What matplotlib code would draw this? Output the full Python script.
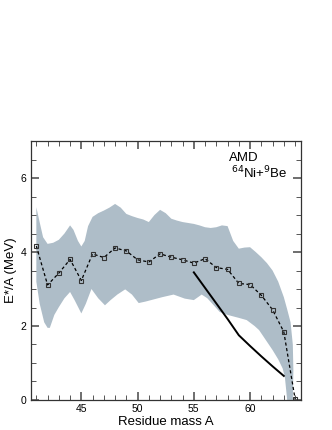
'''AMD excitation energy per nucleon vs residue mass for 64Ni+9Be.'''
import numpy as np
import matplotlib.pyplot as plt
from matplotlib.ticker import MultipleLocator

## data
mass = list(range(41, 65))
e_star = [4.16, 3.11, 3.43, 3.80, 3.23, 3.95, 3.85, 4.11, 4.03, 3.79, 3.73, 3.95,
          3.86, 3.79, 3.70, 3.82, 3.58, 3.53, 3.15, 3.12, 2.83, 2.44, 1.84, 0.03]

# spread of the distribution (upper / lower edge of the shaded band)
upper_a = [41.0, 41.3, 41.6, 42.0, 42.5, 43.0, 43.5, 44.0, 44.3, 44.7, 45.0, 45.3,
           45.6, 46.0, 46.5, 47.0, 47.5, 48.0, 48.5, 49.0, 49.5, 50.0, 50.5, 51.0,
           51.5, 52.0, 52.5, 53.0, 53.5, 54.0, 55.0, 55.5, 56.0, 56.5, 57.0, 57.5,
           58.0, 58.5, 59.0, 59.5, 60.0, 60.5, 61.0, 61.5, 62.0, 62.5, 63.0, 63.3,
           63.6, 63.8, 63.85, 63.8]
upper_e = [5.21, 4.8, 4.4, 4.22, 4.25, 4.33, 4.5, 4.72, 4.6, 4.3, 4.15, 4.3,
           4.7, 4.95, 5.05, 5.12, 5.2, 5.30, 5.2, 5.03, 4.97, 4.92, 4.88, 4.81,
           5.0, 5.14, 5.05, 4.90, 4.85, 4.81, 4.76, 4.72, 4.67, 4.65, 4.67, 4.72,
           4.70, 4.3, 4.09, 4.12, 4.13, 4.0, 3.86, 3.7, 3.50, 3.2, 2.78, 2.45,
           2.1, 1.5, 0.8, 0.0]
lower_a = [41.0, 41.3, 41.7, 42.0, 42.2, 42.6, 43.0, 43.5, 44.0, 44.4, 45.0, 45.4,
           45.9, 46.5, 47.1, 47.6, 48.2, 48.9, 49.5, 50.1, 50.7, 51.2, 52.2, 53.2,
           54.2, 55.0, 55.7, 56.2, 56.8, 57.3, 58.0, 59.0, 59.7, 60.4, 60.8, 61.2,
           62.0, 62.5, 62.9, 63.1, 63.3]
lower_e = [3.2, 2.6, 2.1, 1.95, 1.95, 2.3, 2.51, 2.75, 2.92, 2.7, 2.34, 2.6,
           3.0, 2.75, 2.56, 2.7, 2.85, 2.99, 2.85, 2.62, 2.66, 2.70, 2.78, 2.85,
           2.74, 2.70, 2.85, 2.75, 2.55, 2.38, 2.3, 2.22, 2.16, 2.0, 1.89, 1.71,
           1.35, 1.1, 0.85, 0.6, 0.0]

# solid reference curve
ref_mass = [55, 56, 57, 58, 59, 60, 61, 62, 63]
ref_e = [3.45, 3.03, 2.61, 2.19, 1.75, 1.46, 1.18, 0.91, 0.65]

plt.rcParams['font.family'] = ['Liberation Sans', 'DejaVu Sans']

fig = plt.figure(figsize=(3.32, 4.30), dpi=100)
ax = fig.add_axes([0.0925, 0.0698, 0.8132, 0.6022])

## shaded band
band_x = upper_a + lower_a[::-1]
band_y = upper_e + lower_e[::-1]
ax.fill(band_x, band_y, color='#aebdc8', lw=0, zorder=1)

## AMD points and reference line
ax.plot(mass, e_star, ls=(0, (2.5, 2)), color='black', lw=0.9,
        marker='s', ms=3.5, mfc='none', mec='#333333', mew=0.8, zorder=3)
ax.plot(ref_mass, ref_e, color='black', lw=1.4, zorder=2)

ax.text(228.5 / 332, 0.6322, 'AMD', transform=fig.transFigure, fontsize=9.5,
        ha='left', va='center')
ax.text(231 / 332, 0.5985, r'$^{64}$Ni+$^{9}$Be', transform=fig.transFigure,
        fontsize=9.5, ha='left', va='center')

ax.set_xlim(40.5, 64.5)
ax.set_ylim(0, 7)
ax.xaxis.set_major_locator(MultipleLocator(5))
ax.xaxis.set_minor_locator(MultipleLocator(1))
ax.yaxis.set_major_locator(MultipleLocator(2))
ax.yaxis.set_minor_locator(MultipleLocator(0.5))
ax.tick_params(which='both', direction='in', top=True, right=True,
               labelsize=7.5, colors='#555555', labelcolor='black', pad=3)
ax.tick_params(which='major', length=6, width=1.2)
ax.tick_params(which='minor', length=3.5, width=0.7)
for sp in ax.spines.values():
    sp.set_linewidth(0.9)
    sp.set_color('#333333')

ax.set_xlabel('Residue mass A', fontsize=9.5, labelpad=1)
ax.set_ylabel('E*/A (MeV)', fontsize=9.5, labelpad=3)

plt.savefig('out.png', dpi=100)
